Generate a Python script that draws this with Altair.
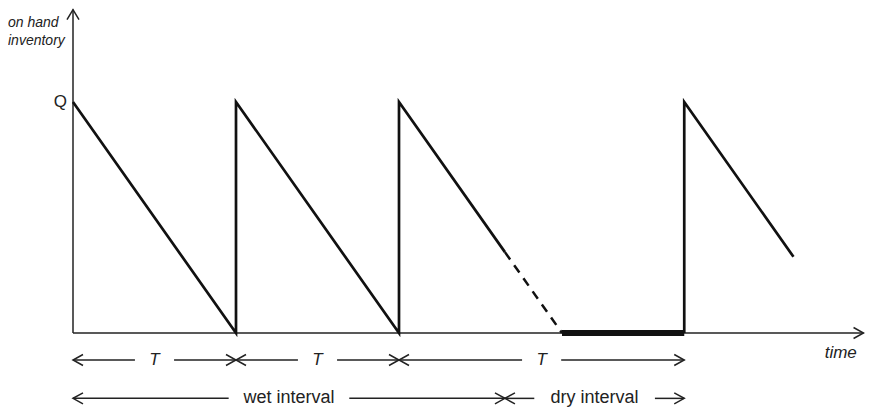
import altair as alt
import pandas as pd

# ---------------- data (time in units of T, inventory in units of Q) ----------------
solid_time = [0, 1, 1, 2, 2, 2.65]
solid_inv = [1, 0, 1, 0, 1, 0.35]
dashed_time = [2.65, 3.0]
dashed_inv = [0.35, 0.0]
dry_time = [3.0, 3.75]
dry_inv = [0.0, 0.0]
restock_time = [3.75, 3.75, 4.42]
restock_inv = [0.0, 1.0, 0.33]

axis_time_end = 4.85
axis_inv_end = 1.40

cycle_start = [0, 1, 2]
cycle_end = [1, 2, 3.75]
cycle_label = ["T", "T", "T"]

phase_start = [0, 2.65]
phase_end = [2.65, 3.75]
phase_label = ["wet interval", "dry interval"]

# ---------------- layout constants ----------------
ROW_T = -0.117
ROW_PHASE = -0.283
PHASE_BASE = -0.303
FONT = "Liberation Sans"

xs = alt.Scale(domain=[0, 1], range=[65, 228], zero=False, nice=False)
ys = alt.Scale(domain=[0, 1], range=[325, 94], zero=False, nice=False)


def X(field="t"):
    return alt.X(f"{field}:Q", scale=xs, axis=None)


def Y(field="inv"):
    return alt.Y(f"{field}:Q", scale=ys, axis=None)


def line_df(t, v):
    return pd.DataFrame({"t": t, "inv": v, "o": list(range(len(t)))})


solid = alt.Chart(line_df(solid_time, solid_inv)).mark_line(
    color="#111", strokeWidth=2.7, strokeJoin="miter"
).encode(x=X(), y=Y(), order="o:Q")
restock = alt.Chart(line_df(restock_time, restock_inv)).mark_line(
    color="#111", strokeWidth=2.7, strokeJoin="miter"
).encode(x=X(), y=Y(), order="o:Q")
dashed = alt.Chart(line_df(dashed_time, dashed_inv)).mark_line(
    color="#111", strokeWidth=2.5, strokeDash=[9, 7]
).encode(x=X(), y=Y(), order="o:Q")
dry = alt.Chart(line_df(dry_time, dry_inv)).mark_line(
    color="#111", strokeWidth=6
).encode(x=X(), y=Y(), order="o:Q")

# axes
axes_df = pd.DataFrame({"t": [0, 0], "t2": [0, axis_time_end],
                        "inv": [0, 0], "inv2": [axis_inv_end, 0]})
axes = alt.Chart(axes_df).mark_rule(color="#222", strokeWidth=1.5).encode(
    x=X(), x2="t2:Q", y=Y(), y2="inv2:Q")

# arrow rows
seg_rows, head_rows, lab_rows = [], [], []
for starts, ends, labels, row, base, gap in [
    (cycle_start, cycle_end, cycle_label, ROW_T, ROW_T, 0.12),
    (phase_start, phase_end, phase_label, ROW_PHASE, PHASE_BASE, 0.37),
]:
    for s, e, lab in zip(starts, ends, labels):
        m = (s + e) / 2
        seg_rows.append({"t": s, "t2": m - gap, "inv": row})
        seg_rows.append({"t": m + gap, "t2": e, "inv": row})
        head_rows.append({"t": s, "inv": row, "dir": "left"})
        head_rows.append({"t": e, "inv": row, "dir": "right"})
        lab_rows.append({"t": m, "inv": base, "label": lab})

head_rows.append({"t": 0, "inv": axis_inv_end, "dir": "up"})
head_rows.append({"t": axis_time_end, "inv": 0, "dir": "right"})

segs = alt.Chart(pd.DataFrame(seg_rows)).mark_rule(color="#222", strokeWidth=1.5).encode(
    x=X(), x2="t2:Q", y=Y())

heads = alt.Chart(pd.DataFrame(head_rows)).mark_point(
    filled=False, color="#222", strokeWidth=1.5, size=400, opacity=1
).encode(
    x=X(), y=Y(),
    shape=alt.Shape("dir:N", legend=None, scale=alt.Scale(
        domain=["left", "right", "up"],
        range=["M1,-0.55L0,0L1,0.55", "M-1,-0.55L0,0L-1,0.55", "M-0.6,1L0,0L0.6,1"])),
)

lab_df = pd.DataFrame(lab_rows)
t_labels = alt.Chart(lab_df[lab_df["label"] == "T"]).mark_text(
    font=FONT, fontSize=17, fontStyle="italic", color="#222", baseline="middle"
).encode(x=X(), y=Y(), text="label:N")
p_labels = alt.Chart(lab_df[lab_df["label"] != "T"]).mark_text(
    font=FONT, fontSize=18, color="#222", baseline="alphabetic"
).encode(x=X(), y=Y(), text="label:N")

time_lab = alt.Chart(pd.DataFrame({"t": [4.71], "inv": [-0.087], "label": ["time"]})).mark_text(
    font=FONT, fontSize=17, fontStyle="italic", color="#222", baseline="middle"
).encode(x=X(), y=Y(), text="label:N")

q_lab = alt.Chart(pd.DataFrame({"inv": [1.0], "label": ["Q"]})).mark_text(
    font=FONT, fontSize=17, color="#222", align="right", baseline="middle"
).encode(x=alt.value(59), y=Y(), text="label:N")

inv_lab = alt.Chart(pd.DataFrame({"label": ["on hand", "inventory"], "py": [15, 33]})).mark_text(
    font=FONT, fontSize=14, fontStyle="italic", color="#222", align="left", baseline="middle"
).encode(x=alt.value(0), y=alt.Y("py:Q", scale=None), text="label:N")

chart = alt.layer(
    axes, solid, dashed, dry, restock, segs, heads,
    t_labels, p_labels, time_lab, q_lab, inv_lab
).properties(
    width=857, height=400, padding=0,
    autosize=alt.AutoSizeParams(type="none")
).configure_view(stroke=None)

chart.save("out.html", embed_options={"renderer": "svg", "actions": False})
